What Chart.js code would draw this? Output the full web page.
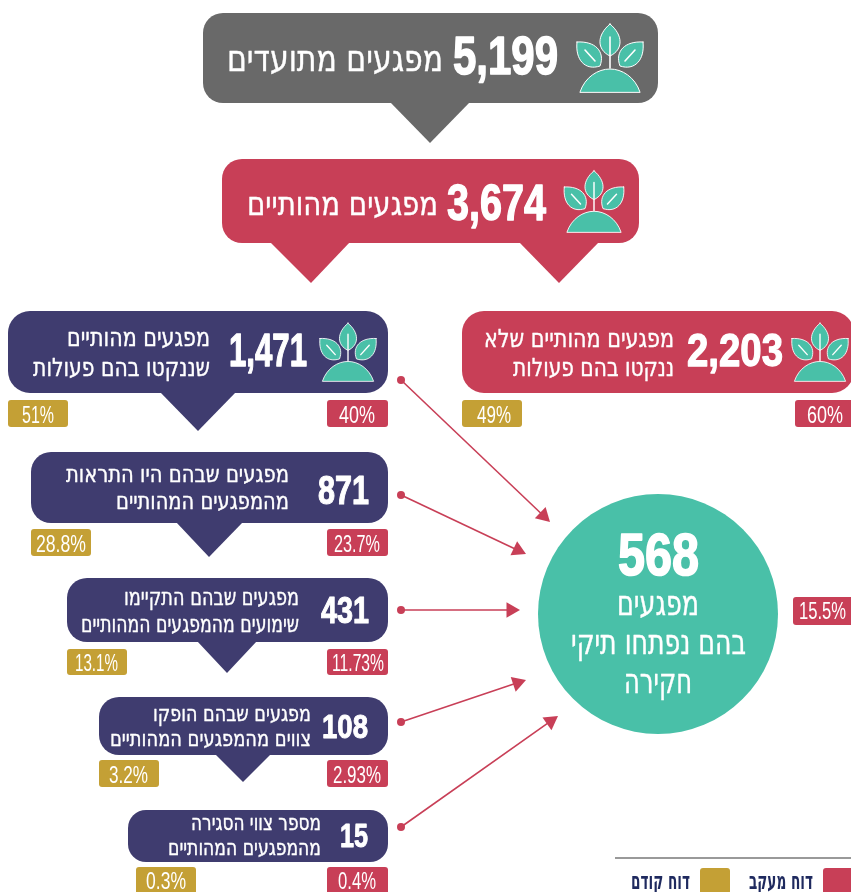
<!DOCTYPE html>
<html lang="he">
<head>
<meta charset="utf-8">
<title>מפגעים</title>
<script src="https://cdn.jsdelivr.net/npm/chart.js@4"></script>
<style>
  html, body { margin: 0; padding: 0; background: #fff; overflow: hidden; }
  canvas { display: block; }
</style>
</head>
<body>
<canvas id="grafica" width="851" height="892"></canvas>
<script>
// values
var cantidades = [5199, 3674, 2203, 1471, 871, 431, 108, 15, 568];
var textos = [
    ['מפגעים מתועדים'],
    ['מפגעים מהותיים'],
    ['מפגעים מהותיים שלא', 'ננקטו בהם פעולות'],
    ['מפגעים מהותיים', 'שננקטו בהם פעולות'],
    ['מפגעים שבהם היו התראות', 'מהמפגעים המהותיים'],
    ['מפגעים שבהם התקיימו', 'שימועים מהמפגעים המהותיים'],
    ['מפגעים שבהם הופקו', 'צווים מהמפגעים המהותיים'],
    ['מספר צווי הסגירה', 'מהמפגעים המהותיים'],
    ['מפגעים', 'בהם נפתחו תיקי', 'חקירה']
];
var pctMaakav = [60, 40, 23.7, 11.73, 2.93, 0.4, 15.5];
var pctKodem = [49, 51, 28.8, 13.1, 3.2, 0.3];
var leyenda = ['דוח מעקב', 'דוח קודם'];

var GRIS = '#696969', ROJO = '#c83f57', AZUL = '#3f3c6f', ORO = '#c4a035', VERDE = '#49c0a8', TINTA = '#1f2a5f';

// layout only, in the units of the two hidden axes
var cajas = [
    { x0: 203, x1: 658, y0: 13, y1: 103, r: 20, color: GRIS },
    { x0: 222, x1: 639, y0: 159, y1: 243, r: 20, color: ROJO },
    { x0: 462, x1: 854, y0: 311, y1: 393, r: 22, color: ROJO },
    { x0: 8, x1: 388, y0: 311, y1: 393, r: 22, color: AZUL },
    { x0: 31, x1: 388, y0: 452, y1: 523, r: 20, color: AZUL },
    { x0: 67, x1: 388, y0: 578, y1: 642, r: 20, color: AZUL },
    { x0: 99, x1: 388, y0: 697, y1: 755, r: 20, color: AZUL },
    { x0: 128, x1: 388, y0: 810, y1: 862, r: 18, color: AZUL }
];
var puntas = [
    { x0: 390, x1: 470, y: 103, ax: 430, ay: 143, color: GRIS },
    { x0: 270, x1: 350, y: 243, ax: 311, ay: 283, color: ROJO },
    { x0: 519, x1: 599, y: 243, ax: 559, ay: 283, color: ROJO },
    { x0: 160, x1: 236, y: 393, ax: 198, ay: 431, color: AZUL },
    { x0: 176, x1: 243, y: 523, ax: 209, ay: 557, color: AZUL },
    { x0: 197, x1: 257, y: 642, ax: 227, ay: 673, color: AZUL },
    { x0: 215, x1: 271, y: 755, ax: 243, ay: 782, color: AZUL }
];
var etiquetasMaakav = [
    { x0: 795, x1: 853, y0: 400, y1: 427, t0: 807, t1: 843, b: 423 },
    { x0: 327, x1: 388, y0: 400, y1: 427, t0: 339, t1: 375, b: 423 },
    { x0: 327, x1: 388, y0: 529, y1: 556, t0: 334, t1: 380, b: 552 },
    { x0: 327, x1: 388, y0: 649, y1: 675, t0: 332, t1: 384, b: 671 },
    { x0: 327, x1: 388, y0: 760, y1: 787, t0: 333, t1: 381, b: 783 },
    { x0: 327, x1: 388, y0: 867, y1: 894, t0: 338, t1: 376, b: 889 },
    { x0: 793, x1: 853, y0: 597, y1: 625, t0: 799, t1: 846, b: 619 }
];
var etiquetasKodem = [
    { x0: 462, x1: 522, y0: 400, y1: 427, t0: 477, t1: 511, b: 423 },
    { x0: 8, x1: 68, y0: 400, y1: 427, t0: 22, t1: 54, b: 423 },
    { x0: 31, x1: 91, y0: 529, y1: 556, t0: 36, t1: 86, b: 552 },
    { x0: 67, x1: 127, y0: 649, y1: 675, t0: 75, t1: 118, b: 671 },
    { x0: 99, x1: 159, y0: 760, y1: 787, t0: 109, t1: 148, b: 783 },
    { x0: 136, x1: 196, y0: 867, y1: 894, t0: 146, t1: 186, b: 889 }
];
// number position + one entry per text line: left, right, baseline
var posNumeros = [
    { x0: 453, x1: 558, b: 74, h: 38 },
    { x0: 447, x1: 546, b: 220, h: 35 },
    { x0: 687, x1: 783, b: 366, h: 33 },
    { x0: 229, x1: 307, b: 366, h: 33 },
    { x0: 318, x1: 369, b: 504, h: 29 },
    { x0: 321, x1: 369, b: 623, h: 26 },
    { x0: 322, x1: 368, b: 738, h: 23 },
    { x0: 340, x1: 368, b: 847, h: 23 },
    { x0: 618, x1: 699, b: 575, h: 41 }
];
var posTextos = [
    { h: 26, lineas: [[227, 443, 71]] },
    { h: 24, lineas: [[247, 438, 215]] },
    { h: 18, lineas: [[484, 674, 347], [513, 674, 376]] },
    { h: 18, lineas: [[67, 210, 346], [33, 210, 376]] },
    { h: 17, lineas: [[66, 289, 482], [116, 289, 509]] },
    { h: 17, lineas: [[124, 299, 605], [81, 299, 632]] },
    { h: 16, lineas: [[153, 311, 721], [110, 311, 746]] },
    { h: 16, lineas: [[191, 321, 830], [168, 321, 855]] },
    { h: 25, lineas: [[617, 699, 615], [571, 746, 654], [624, 692, 693]] }
];
var plantas = [
    { x: 610, y: 92, w: 60 },
    { x: 594, y: 232, w: 54 },
    { x: 820, y: 381, w: 51 },
    { x: 348, y: 381, w: 51 }
];
var flechas = [
    [401, 380, 550, 522],
    [401, 495, 526, 554],
    [401, 610, 520, 610],
    [401, 722, 526, 680],
    [401, 827, 558, 716]
];

function barra(x0, x1, y0, y1, r, color) {
    return {
        type: 'bar',
        indexAxis: 'y',
        grouped: false,
        data: [{ x: [x0, x1], y: (y0 + y1) / 2 }],
        barThickness: y1 - y0,
        borderRadius: r,
        borderSkipped: false,
        inflateAmount: 0,
        backgroundColor: color
    };
}

function flecha(f) {
    var dx = f[2] - f[0], dy = f[3] - f[1];
    var largo = Math.sqrt(dx * dx + dy * dy);
    var radio = 9;
    return {
        type: 'line',
        data: [{ x: f[0], y: f[1] }, { x: f[2] - dx / largo * radio, y: f[3] - dy / largo * radio }],
        borderColor: ROJO,
        backgroundColor: ROJO,
        borderWidth: 1.6,
        tension: 0,
        pointBorderWidth: 0,
        pointRadius: [4, radio],
        pointStyle: ['circle', 'triangle'],
        pointRotation: [0, Math.atan2(dx, -dy) * 180 / Math.PI]
    };
}

var datasets = [];
cajas.forEach(function (c) { datasets.push(barra(c.x0, c.x1, c.y0, c.y1, c.r, c.color)); });
etiquetasMaakav.forEach(function (e) { datasets.push(barra(e.x0, e.x1, e.y0, e.y1, 3, ROJO)); });
etiquetasKodem.forEach(function (e) { datasets.push(barra(e.x0, e.x1, e.y0, e.y1, 3, ORO)); });
datasets.push(barra(823, 853, 868, 894, 3, ROJO));
datasets.push(barra(700, 730, 868, 894, 3, ORO));
flechas.forEach(function (f) { datasets.push(flecha(f)); });
datasets.push({
    type: 'bubble',
    data: [{ x: 658, y: 614, r: 120 }],
    backgroundColor: VERDE,
    borderWidth: 0
});
datasets.push({
    type: 'line',
    data: [{ x: 615, y: 858 }, { x: 851, y: 858 }],
    borderColor: '#999999',
    borderWidth: 2,
    pointRadius: 0
});

// grosor thickens the stroke a bit, the originals are heavier than the installed fonts
function textoAjustado(ctx, chart, str, x0, x1, base, fuente, color, dir, grosor) {
    var sx = chart.scales.x, sy = chart.scales.y;
    var izq = sx.getPixelForValue(x0), der = sx.getPixelForValue(x1);
    ctx.save();
    ctx.font = fuente;
    ctx.direction = dir;
    ctx.textAlign = 'right';
    ctx.textBaseline = 'alphabetic';
    ctx.fillStyle = color;
    ctx.strokeStyle = color;
    ctx.lineJoin = 'round';
    var w = ctx.measureText(str).width;
    ctx.translate(der, sy.getPixelForValue(base));
    ctx.scale((der - izq) / w, 1);
    ctx.fillText(str, 0, 0);
    if (grosor) {
        ctx.lineWidth = grosor;
        ctx.strokeText(str, 0, 0);
    }
    ctx.restore();
}

function hoja(ctx, ax, ay, bx, by, c) {
    var dx = bx - ax, dy = by - ay, nx = -dy * c, ny = dx * c;
    ctx.beginPath();
    ctx.moveTo(ax, ay);
    ctx.bezierCurveTo(ax + dx * 0.35 + nx, ay + dy * 0.35 + ny, ax + dx * 0.8 + nx, ay + dy * 0.8 + ny, bx, by);
    ctx.bezierCurveTo(ax + dx * 0.8 - nx, ay + dy * 0.8 - ny, ax + dx * 0.35 - nx, ay + dy * 0.35 - ny, ax, ay);
    ctx.closePath();
    ctx.fill();
    ctx.stroke();
}

function dibujarPlanta(ctx, chart, p) {
    var k = p.w / 60;
    ctx.save();
    ctx.translate(chart.scales.x.getPixelForValue(p.x), chart.scales.y.getPixelForValue(p.y));
    ctx.scale(k, k);
    ctx.fillStyle = VERDE;
    ctx.strokeStyle = '#ffffff';
    ctx.lineWidth = 1;
    ctx.lineCap = 'round';
    ctx.beginPath();
    ctx.moveTo(-30, 0);
    ctx.bezierCurveTo(-25, -15, -12, -23, 0, -23);
    ctx.bezierCurveTo(12, -23, 25, -15, 30, 0);
    ctx.closePath();
    ctx.fill();
    ctx.stroke();
    hoja(ctx, 0, -68, 0, -36, 0.42);
    hoja(ctx, -33, -50, -10, -26, 0.42);
    hoja(ctx, 33, -50, 10, -26, 0.42);
    ctx.lineWidth = 1.6;
    ctx.beginPath();
    ctx.moveTo(0, -55); ctx.lineTo(0, -24);
    ctx.moveTo(-25, -42); ctx.lineTo(-15, -31);
    ctx.moveTo(25, -42); ctx.lineTo(15, -31);
    ctx.stroke();
    ctx.restore();
}

var FUENTE_HEB = '"DejaVu Sans", sans-serif';
var FUENTE_NUM = '"Liberation Sans", sans-serif';

var dibujos = {
    id: 'dibujos',
    beforeDatasetsDraw: function (chart) {
        var ctx = chart.ctx, sx = chart.scales.x, sy = chart.scales.y;
        puntas.forEach(function (p) {
            ctx.fillStyle = p.color;
            ctx.beginPath();
            ctx.moveTo(sx.getPixelForValue(p.x0), sy.getPixelForValue(p.y - 1));
            ctx.lineTo(sx.getPixelForValue(p.x1), sy.getPixelForValue(p.y - 1));
            ctx.lineTo(sx.getPixelForValue(p.ax), sy.getPixelForValue(p.ay));
            ctx.closePath();
            ctx.fill();
        });
    },
    afterDatasetsDraw: function (chart) {
        var ctx = chart.ctx;
        plantas.forEach(function (p) { dibujarPlanta(ctx, chart, p); });
        cantidades.forEach(function (v, i) {
            var n = posNumeros[i];
            textoAjustado(ctx, chart, v.toLocaleString('en-US'), n.x0, n.x1, n.b,
                'bold ' + Math.round(n.h / 0.70) + 'px ' + FUENTE_NUM, '#ffffff', 'ltr', n.h * 0.04);
        });
        textos.forEach(function (lineas, i) {
            var t = posTextos[i];
            lineas.forEach(function (s, j) {
                var l = t.lineas[j];
                textoAjustado(ctx, chart, s, l[0], l[1], l[2], Math.round(t.h / 0.73) + 'px ' + FUENTE_HEB, '#ffffff', 'rtl', 0.4);
            });
        });
        pctMaakav.forEach(function (v, i) {
            var e = etiquetasMaakav[i];
            textoAjustado(ctx, chart, v + '%', e.t0, e.t1, e.b, '23px ' + FUENTE_NUM, '#ffffff', 'ltr');
        });
        pctKodem.forEach(function (v, i) {
            var e = etiquetasKodem[i];
            textoAjustado(ctx, chart, v + '%', e.t0, e.t1, e.b, '23px ' + FUENTE_NUM, '#ffffff', 'ltr');
        });
        textoAjustado(ctx, chart, leyenda[0], 749, 813, 889, 'bold 24px ' + FUENTE_HEB, TINTA, 'rtl');
        textoAjustado(ctx, chart, leyenda[1], 631, 690, 889, 'bold 24px ' + FUENTE_HEB, TINTA, 'rtl');
    }
};

var ctx = document.getElementById('grafica').getContext('2d');
var grafica = new Chart(ctx, {
    type: 'bar',
    data: { datasets: datasets },
    plugins: [dibujos],
    options: {
        responsive: false,
        animation: false,
        events: [],
        layout: { padding: 0, autoPadding: false },
        plugins: { legend: { display: false }, tooltip: { enabled: false } },
        scales: {
            x: { type: 'linear', min: 0, max: 851, offset: false, display: false },
            y: { type: 'linear', min: 0, max: 892, offset: false, reverse: true, display: false }
        }
    }
});
</script>
</body>
</html>
